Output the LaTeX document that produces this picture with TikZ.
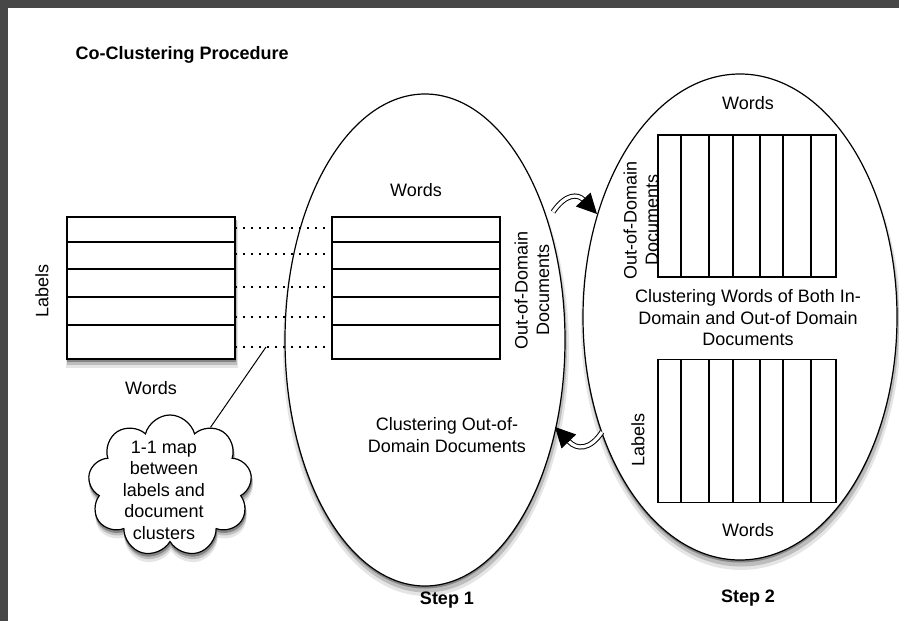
\documentclass[tikz,border=0pt]{standalone}
\usepackage{fontspec}
\setmainfont{Liberation Sans}
\usetikzlibrary{shapes.geometric,shapes.symbols,arrows.meta}

\tikzset{
  shadeA/.style={fill=black!10},
  shadeB/.style={fill=black!26},
  shadeC/.style={fill=black!48},
  blob/.style={ellipse, draw, line width=1.2pt, fill=white, outer sep=0pt},
  matbox/.style={rectangle, draw, line width=1.2pt, fill=white, outer sep=0pt},
  puffy/.style={cloud, cloud puffs=9, aspect=1.1, line width=1.2pt,
    minimum width=164pt, minimum height=142pt},
  mapline/.style={line width=1.6pt, dash pattern=on 1.6pt off 6.4pt},
  flow/.style={line width=1pt, double=white, double distance=3.2pt,
    -{Triangle[length=20pt,width=20pt]}},
  bigfont/.style={font=\fontsize{18}{21.5}\selectfont},
  headfont/.style={font=\fontsize{18}{21.5}\selectfont\bfseries}
}

\begin{document}
\begin{tikzpicture}[x=1pt,y=-1pt,every node/.style={bigfont}]
  %%%%% frame %%%%%
  \useasboundingbox (0,0) rectangle (899,621);
  \fill[black!72] (0,0) rectangle (899,621);
  \fill[white] (8,8) rectangle (899,621);

  \node[headfont, anchor=west] (title) at (72,55) {Co-Clustering Procedure};

  %%%%% soft shadows %%%%%
  \fill[shadeA] (426,348) ellipse [x radius=143, y radius=248];
  \fill[shadeB] (426,345.5) ellipse [x radius=141, y radius=247];
  \fill[shadeC] (425,342.5) ellipse [x radius=140, y radius=246];
  \fill[shadeA] (741,325) ellipse [x radius=160, y radius=245];
  \fill[shadeB] (741,322.5) ellipse [x radius=158, y radius=244];
  \fill[shadeC] (740,319.5) ellipse [x radius=157, y radius=243];
  \fill[shadeA] (66,221) rectangle (238,368);
  \fill[shadeB] (67,220) rectangle (237,365);
  \fill[shadeC] (67,219) rectangle (236,362);
  \node[puffy, draw=black!10, fill=black!10] (noteshade1) at (171,494) {};
  \node[puffy, draw=black!26, fill=black!26] (noteshade2) at (171,491) {};
  \node[puffy, draw=black!48, fill=black!48] (noteshade3) at (170.5,488.5) {};

  %%%%% the two steps %%%%%
  \node[blob, minimum width=280pt, minimum height=492pt] (step1) at (425,340) {};
  \node[blob, minimum width=314pt, minimum height=486pt] (step2) at (740,317) {};

  \node[headfont] (s1lab) at (447,600) {Step 1};
  \node[headfont] (s2lab) at (748,598) {Step 2};

  %%%%% left: labels x words %%%%%
  \node[matbox, minimum width=168pt, minimum height=142pt] (lmat) at (151,288) {};
  \foreach \y in {242,269,297,325}
    \draw[line width=1.2pt] (lmat.west |- 0,\y) -- (lmat.east |- 0,\y);
  \node[rotate=90] (llab) at (42,291) {Labels};
  \node (lwords) at (151,388) {Words};

  %%%%% step 1: documents x words %%%%%
  \node[matbox, minimum width=168pt, minimum height=142pt] (mmat) at (416,288) {};
  \foreach \y in {242,269,297,325}
    \draw[line width=1.2pt] (mmat.west |- 0,\y) -- (mmat.east |- 0,\y);
  \node (mwords) at (416,190) {Words};
  \node[rotate=90, align=center] (mdocs) at (532,290) {Out-of-Domain\\Documents};
  \node[align=center] (s1text) at (447,435) {Clustering Out-of-\\Domain Documents};

  %%%%% 1-1 map between the rows %%%%%
  \foreach \y in {228,254,287,317,347}
    \draw[mapline] (lmat.east |- 0,\y) -- (mmat.west |- 0,\y);
  \coordinate (pick) at (266,347);
  \node[puffy, draw, fill=white] (note) at (170,486) {};
  \node[align=center] (notetext) at (164,490) {1-1 map\\between\\labels and\\document\\clusters};
  \draw[line width=1pt] (pick) -- (note);

  %%%%% step 2: documents x words, labels x words %%%%%
  \node[matbox, minimum width=178pt, minimum height=142pt] (rtop) at (747,206) {};
  \foreach \x in {681,709,733,760,783,811}
    \draw[line width=1.2pt] (\x,0 |- rtop.north) -- (\x,0 |- rtop.south);
  \node (rtwords) at (748,103) {Words};
  \node[rotate=90, align=center] (rtdocs) at (641,220) {Out-of-Domain\\Documents};
  \node[align=center] (s2text) at (748,318) {Clustering Words of Both In-\\Domain and Out-of Domain\\Documents};

  \node[matbox, minimum width=178pt, minimum height=143pt] (rbot) at (747,431) {};
  \foreach \x in {681,709,733,760,783,811}
    \draw[line width=1.2pt] (\x,0 |- rbot.north) -- (\x,0 |- rbot.south);
  \node[rotate=90] (rblab) at (638,440) {Labels};
  \node (rbwords) at (748,530) {Words};

  %%%%% back and forth %%%%%
  \coordinate (go1) at (553,212);
  \coordinate (go2) at (597,214);
  \coordinate (back1) at (602,432);
  \coordinate (back2) at (555,427);
  \draw[flow] (go1) .. controls (566,193) and (578,194) .. (go2);
  \draw[flow] (back1) .. controls (590,450) and (577,450) .. (back2);
\end{tikzpicture}
\end{document}
